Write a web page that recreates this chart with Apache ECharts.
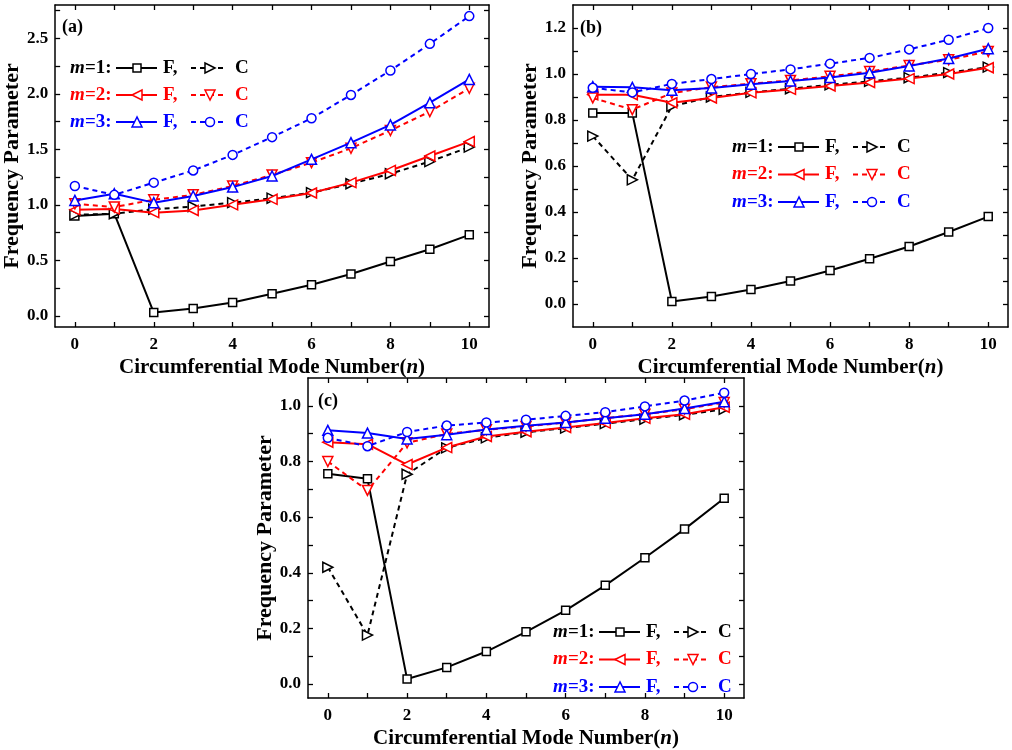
<!DOCTYPE html>
<html>
<head>
<meta charset="utf-8">
<title>Frequency Parameter vs Circumferential Mode Number</title>
<script src="https://cdn.jsdelivr.net/npm/echarts@6.0.0/dist/echarts.min.js"></script>
<style>
  html, body { margin: 0; padding: 0; background: #fff; }
  #chart { width: 1012px; height: 750px; }
</style>
</head>
<body>
<div id="chart"></div>
<script>
// circumferential mode number n
var modeN = [0, 1, 2, 3, 4, 5, 6, 7, 8, 9, 10]
var xTickValues = [0, 1, 2, 3, 4, 5, 6, 7, 8, 9, 10]
var xLabelValues = [0, 2, 4, 6, 8, 10]

// panel (a)
var aF1 = [0.90, 0.92, 0.03, 0.067, 0.12, 0.20, 0.28, 0.377, 0.49, 0.60, 0.73]
var aC1 = [0.91, 0.92, 0.96, 0.985, 1.02, 1.06, 1.11, 1.19, 1.28, 1.39, 1.52]
var aF2 = [0.955, 0.962, 0.93, 0.95, 1.00, 1.05, 1.107, 1.20, 1.31, 1.44, 1.57]
var aC2 = [1.01, 0.98, 1.046, 1.09, 1.17, 1.27, 1.38, 1.51, 1.67, 1.84, 2.05]
var aF3 = [1.04, 1.10, 1.02, 1.08, 1.16, 1.26, 1.41, 1.56, 1.72, 1.92, 2.13]
var aC3 = [1.17, 1.09, 1.20, 1.31, 1.45, 1.61, 1.78, 1.99, 2.21, 2.45, 2.70]
var aYTicks = [0, 0.25, 0.5, 0.75, 1, 1.25, 1.5, 1.75, 2, 2.25, 2.5, 2.75]
var aYLabels = [0, 0.5, 1, 1.5, 2, 2.5]

// panel (b)
var bF1 = [0.83, 0.83, 0.011, 0.033, 0.063, 0.10, 0.146, 0.197, 0.25, 0.313, 0.38]
var bC1 = [0.73, 0.54, 0.86, 0.90, 0.92, 0.936, 0.953, 0.968, 0.984, 1.006, 1.03]
var bF2 = [0.91, 0.91, 0.875, 0.896, 0.918, 0.933, 0.948, 0.963, 0.98, 1.0, 1.027]
var bC2 = [0.896, 0.845, 0.917, 0.943, 0.958, 0.972, 0.99, 1.011, 1.037, 1.062, 1.098]
var bF3 = [0.945, 0.942, 0.929, 0.939, 0.955, 0.97, 0.985, 1.005, 1.035, 1.067, 1.11]
var bC3 = [0.94, 0.92, 0.957, 0.978, 1.0, 1.02, 1.045, 1.07, 1.107, 1.149, 1.20]
var bYTicks = [0, 0.1, 0.2, 0.3, 0.4, 0.5, 0.6, 0.7, 0.8, 0.9, 1.0, 1.1, 1.2]
var bYLabels = [0, 0.2, 0.4, 0.6, 0.8, 1.0, 1.2]

// panel (c)
var cF1 = [0.756, 0.738, 0.018, 0.06, 0.117, 0.188, 0.265, 0.355, 0.454, 0.557, 0.668]
var cC1 = [0.42, 0.176, 0.754, 0.849, 0.885, 0.905, 0.92, 0.936, 0.952, 0.968, 0.988]
var cF2 = [0.869, 0.862, 0.789, 0.85, 0.89, 0.907, 0.922, 0.938, 0.955, 0.97, 0.995]
var cC2 = [0.80, 0.696, 0.867, 0.899, 0.914, 0.926, 0.94, 0.956, 0.97, 0.988, 1.012]
var cF3 = [0.912, 0.902, 0.881, 0.896, 0.915, 0.928, 0.94, 0.955, 0.97, 0.99, 1.015]
var cC3 = [0.885, 0.855, 0.906, 0.929, 0.94, 0.95, 0.964, 0.977, 0.998, 1.019, 1.047]
var cYTicks = [0, 0.1, 0.2, 0.3, 0.4, 0.5, 0.6, 0.7, 0.8, 0.9, 1.0]
var cYLabels = [0, 0.2, 0.4, 0.6, 0.8, 1.0]

var FONT = '"Liberation Serif", "Times New Roman", serif'
var BLACK = '#000000'
var RED = '#ff0000'
var BLUE = '#0000ff'

// series look: m, colour, F symbol, C symbol
var styles = [
  {m: 1, color: BLACK, f: {symbol: 'rect', rot: 0, size: 8}, c: {symbol: 'triangle', rot: -90, size: 10}},
  {m: 2, color: RED, f: {symbol: 'triangle', rot: 90, size: 10}, c: {symbol: 'triangle', rot: 180, size: 10}},
  {m: 3, color: BLUE, f: {symbol: 'triangle', rot: 0, size: 10}, c: {symbol: 'circle', rot: 0, size: 9}}
]

var chart = echarts.init(document.getElementById('chart'))

var option = {
  animation: false,
  backgroundColor: '#fff',
  grid: [],
  xAxis: [],
  yAxis: [],
  series: [],
  graphic: []
}

function pairs (vals) {
  return modeN.map(function (n, i) { return [n, vals[i]] })
}

function axisBase (pos) {
  return {
    position: pos,
    axisLine: {onZero: false, lineStyle: {color: BLACK, width: 1.5}},
    splitLine: {show: false}
  }
}

function addPanel (idx, rect, yMin, yMax, yTicks, yLabels, data) {
  option.grid.push({left: rect[0], top: rect[1], width: rect[2], height: rect[3]})
  var tickStyle = {color: BLACK, width: 1.3}
  var labelStyle = {color: BLACK, fontFamily: FONT, fontWeight: 'bold', fontSize: 17}

  // bottom axis + top mirror
  option.xAxis.push(Object.assign(axisBase('bottom'), {
    gridIndex: idx, type: 'value', min: -0.5, max: 10.5,
    axisTick: {inside: true, length: 5, customValues: xTickValues, lineStyle: tickStyle},
    axisLabel: Object.assign({customValues: xLabelValues, margin: 9}, labelStyle),
    name: 'Circumferential Mode Number({it|n})',
    nameLocation: 'middle',
    nameGap: 30,
    nameTextStyle: {
      color: BLACK, fontFamily: FONT, fontWeight: 'bold', fontSize: 21,
      rich: {it: {fontStyle: 'italic', fontWeight: 'bold', fontSize: 21, fontFamily: FONT, color: BLACK}}
    }
  }))
  option.xAxis.push(Object.assign(axisBase('top'), {
    gridIndex: idx, type: 'value', min: -0.5, max: 10.5,
    axisTick: {inside: true, length: 5, customValues: xTickValues, lineStyle: tickStyle},
    axisLabel: {show: false}
  }))

  // left axis + right mirror
  option.yAxis.push(Object.assign(axisBase('left'), {
    gridIndex: idx, type: 'value', min: yMin, max: yMax,
    axisTick: {inside: true, length: 5, customValues: yTicks, lineStyle: tickStyle},
    axisLabel: Object.assign({
      customValues: yLabels, margin: 7,
      formatter: function (v) { return v.toFixed(1) }
    }, labelStyle),
    name: 'Frequency Parameter',
    nameLocation: 'middle',
    nameGap: 32,
    nameTextStyle: {color: BLACK, fontFamily: FONT, fontWeight: 'bold', fontSize: 22}
  }))
  option.yAxis.push(Object.assign(axisBase('right'), {
    gridIndex: idx, type: 'value', min: yMin, max: yMax,
    axisTick: {inside: true, length: 5, customValues: yTicks, lineStyle: tickStyle},
    axisLabel: {show: false}
  }))

  styles.forEach(function (s, k) {
    ['f', 'c'].forEach(function (kind) {
      var sym = s[kind]
      option.series.push({
        type: 'line',
        xAxisIndex: idx * 2,
        yAxisIndex: idx * 2,
        data: pairs(data[k * 2 + (kind === 'f' ? 0 : 1)]),
        symbol: sym.symbol,
        symbolSize: sym.size,
        symbolRotate: sym.rot,
        showAllSymbol: true,
        z: 2 + k,
        lineStyle: {color: s.color, width: 2, type: kind === 'f' ? 'solid' : [5, 4]},
        itemStyle: {color: '#fff', borderColor: s.color, borderWidth: 1.5}
      })
    })
  })
}

addPanel(0, [55, 5, 434, 322], -0.1, 2.8, aYTicks, aYLabels, [aF1, aC1, aF2, aC2, aF3, aC3])
addPanel(1, [573, 5, 435, 322], -0.1, 1.3, bYTicks, bYLabels, [bF1, bC1, bF2, bC2, bF3, bC3])
addPanel(2, [308, 378, 436, 323], -0.05, 1.1, cYTicks, cYLabels, [cF1, cC1, cF2, cC2, cF3, cC3])

// ---- legend and panel labels drawn as graphics ----
function markShape (sym, cx, cy, color) {
  var st = {fill: '#fff', stroke: color, lineWidth: 1.5}
  if (sym.symbol === 'rect') {
    return {type: 'rect', z: 101, shape: {x: cx - 4, y: cy - 4, width: 8, height: 8}, style: st}
  }
  if (sym.symbol === 'circle') {
    return {type: 'circle', z: 101, shape: {cx: cx, cy: cy, r: 4.5}, style: st}
  }
  var h = 5
  var pts
  if (sym.rot === 0) pts = [[cx, cy - h], [cx - h, cy + h], [cx + h, cy + h]]
  else if (sym.rot === 180) pts = [[cx, cy + h], [cx - h, cy - h], [cx + h, cy - h]]
  else if (sym.rot === 90) pts = [[cx - h, cy], [cx + h, cy - h], [cx + h, cy + h]]
  else pts = [[cx + h, cy], [cx - h, cy - h], [cx - h, cy + h]]
  return {type: 'polygon', z: 101, shape: {points: pts}, style: st}
}

function txt (str, x, y, color, italic, size) {
  return {
    type: 'text', z: 101, x: x, y: y,
    style: {
      text: str, fill: color, fontFamily: FONT, fontWeight: 'bold',
      fontStyle: italic ? 'italic' : 'normal', fontSize: size || 19,
      verticalAlign: 'middle'
    }
  }
}

function addLegend (x0, y0, dy) {
  styles.forEach(function (s, k) {
    var y = y0 + k * dy
    var col = s.color
    option.graphic.push(txt('m', x0, y, col, true))
    option.graphic.push(txt('=' + s.m + ':', x0 + 15, y, col, false))
    option.graphic.push({type: 'line', z: 100, shape: {x1: x0 + 46, y1: y, x2: x0 + 87, y2: y},
      style: {stroke: col, lineWidth: 2}})
    option.graphic.push(markShape(s.f, x0 + 67, y, col))
    option.graphic.push(txt('F,', x0 + 93, y, col, false))
    option.graphic.push({type: 'line', z: 100, shape: {x1: x0 + 121, y1: y, x2: x0 + 157, y2: y},
      style: {stroke: col, lineWidth: 2, lineDash: [5, 4]}})
    option.graphic.push(markShape(s.c, x0 + 140, y, col))
    option.graphic.push(txt('C', x0 + 165, y, col, false))
  })
}

addLegend(70, 68, 27)
addLegend(732, 147, 27.5)
addLegend(553, 632, 27.5)

option.graphic.push(txt('(a)', 62, 27, BLACK, false, 18))
option.graphic.push(txt('(b)', 580, 28, BLACK, false, 18))
option.graphic.push(txt('(c)', 318, 401, BLACK, false, 18))

chart.setOption(option)
</script>
</body>
</html>
